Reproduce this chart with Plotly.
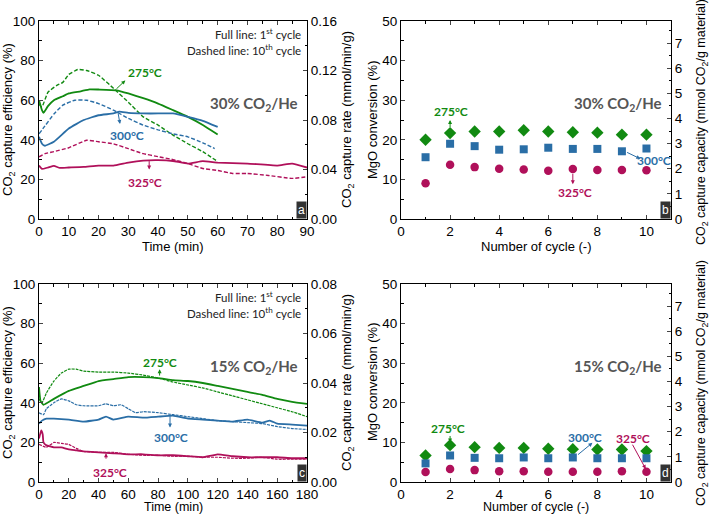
import plotly.graph_objects as go

GREEN = "#118a11"
BLUE = "#2a6ea6"
RED = "#b0105a"
GRAY = "#555555"

# ---- Panel a: 30% CO2/He, capture efficiency vs time ----
a_g1_t = [0, 1, 1.5, 3, 5, 8, 10, 14, 17, 20, 26, 30, 35, 40, 45, 50, 55, 60]
a_g1_y = [60, 55, 53.6, 57, 60, 62, 63.4, 64.5, 65.5, 65.4, 65, 63.4, 61, 58.3, 55, 51.6, 47.5, 42.7]
a_g10_t = [0, 1, 3, 6, 8, 10, 13, 16, 20, 25, 30, 35, 40, 45, 50, 55, 60]
a_g10_y = [58, 56.6, 64, 67.5, 69, 73, 75.5, 75, 72.6, 66, 59, 51.6, 47.4, 42.4, 38, 34, 29]
a_b1_t = [0, 1, 2, 5, 10, 15, 20, 25, 27, 30, 35, 40, 45, 50, 55, 60]
a_b1_y = [41.5, 38, 37, 39, 45.7, 50, 52.4, 53.3, 54.2, 53.6, 53.3, 53.3, 53.3, 51.6, 49.6, 46.5]
a_b10_t = [0, 2, 5, 8, 12, 16, 20, 25, 30, 35, 40, 45, 50, 55, 59]
a_b10_y = [43, 47, 53, 57.5, 60, 60, 58.3, 55, 50.8, 47.4, 45, 43, 41.5, 38.5, 35.6]
a_r1_t = [0, 1, 3, 5, 7, 10, 15, 20, 25, 30, 35, 40, 45, 50, 55, 60, 70, 80, 85, 90]
a_r1_y = [27, 25.3, 26, 26.8, 25.8, 26, 26.3, 27, 27, 28.5, 29.5, 29.7, 29.3, 28, 29.2, 28.5, 28, 27, 28, 26]
a_r10_t = [0, 2, 5, 10, 16, 20, 25, 30, 35, 40, 45, 50, 55, 60, 65, 70, 77, 85, 90]
a_r10_y = [31.4, 33, 34, 36, 39.8, 39, 38, 35.5, 33, 31.5, 30, 28, 25.5, 24.5, 23, 23, 22, 20.5, 21.3]

# ---- Panel c: 15% CO2/He ----
c_g1_t = [0, 1, 3, 10, 20, 30, 40, 50, 60, 70, 80, 90, 100, 110, 120, 130, 140, 150, 160, 170, 180]
c_g1_y = [48, 41, 39, 42, 46, 48.5, 51, 52, 53, 53, 52.5, 51.5, 51, 50, 48.5, 47, 45.5, 44, 42, 40.5, 39.5]
c_g10_t = [0, 2, 5, 10, 15, 20, 25, 30, 40, 50, 60, 70, 80, 90, 100, 110, 120, 130, 140, 150, 160, 170, 180]
c_g10_y = [42, 40, 45, 51, 55, 57, 57, 56, 55.5, 55.5, 55, 54, 52.5, 50.5, 49, 47.5, 45.5, 43.5, 41.5, 39.5, 37.5, 35.5, 33]
c_b1_t = [0, 2, 5, 10, 20, 30, 40, 45, 50, 60, 70, 80, 90, 100, 110, 120, 130, 140, 150, 155, 160, 170, 180]
c_b1_y = [29.5, 31, 32, 32, 31.5, 30.5, 31.5, 33, 31.5, 33, 32.5, 33, 33.5, 32, 31.5, 31, 30.5, 31.5, 30, 31, 29.5, 29, 28.5]
c_b10_t = [0, 3, 5, 10, 15, 20, 25, 30, 40, 45, 50, 55, 60, 65, 70, 80, 90, 100, 110, 120, 130, 140, 150, 160, 170, 180]
c_b10_y = [35, 34, 37, 40, 42, 41, 39, 38.5, 38.5, 39.5, 38.5, 39, 37, 35, 35.5, 35, 34, 33, 32, 31, 30.5, 30, 29.5, 28, 27, 26.5]
c_r1_t = [0, 1.5, 2.5, 3, 5, 10, 15, 20, 25, 30, 40, 50, 60, 70, 80, 90, 100, 110, 120, 130, 140, 150, 160, 170, 180]
c_r1_y = [22, 26, 24, 20, 18.5, 17.5, 17.5, 16.5, 16, 15.5, 15, 14.5, 14, 14, 13.5, 13.5, 13, 12.5, 14, 13, 12.5, 12.5, 12.5, 12, 12]
c_r10_t = [0, 3, 5, 10, 15, 20, 25, 30, 40, 50, 60, 70, 80, 90, 100, 110, 120, 130, 140, 150, 160, 170, 180]
c_r10_y = [19, 18, 17.5, 20, 19.5, 19, 17, 15.5, 15, 15, 14, 13.5, 13.5, 13, 13, 12.5, 12.5, 12, 12, 12.5, 11.5, 11.5, 11.5]

# ---- Panels b, d: MgO conversion vs cycle ----
cycles = [1, 2, 3, 4, 5, 6, 7, 8, 9, 10]
b_275 = [20, 21.7, 22.1, 22.1, 22.4, 22.1, 21.9, 21.8, 21.3, 21.3]
b_300 = [15.6, 19, 18.4, 17.5, 17.6, 18, 17.7, 17.7, 17.1, 17.8]
b_325 = [9, 13.7, 13.1, 12.7, 12.5, 12.2, 12.6, 12.4, 12.4, 12.3]
d_275 = [6.7, 9.3, 8.8, 8.6, 8.6, 8.4, 8.3, 8.2, 8.2, 7.8]
d_300 = [4.7, 6.7, 6.1, 6.0, 6.2, 6.0, 6.2, 6.0, 6.0, 6.0]
d_325 = [2.5, 3.3, 3.0, 2.7, 2.7, 2.6, 2.6, 2.6, 2.7, 2.6]

fig = go.Figure()

def line(t, y, color, dash, xa, ya, w=1.8):
    fig.add_trace(go.Scatter(x=t, y=y, mode="lines", xaxis=xa, yaxis=ya,
                             line=dict(color=color, width=w, dash=dash, shape="spline", smoothing=0.35),
                             showlegend=False, hoverinfo="skip"))

line(a_g10_t, a_g10_y, GREEN, "4px,2px", "x", "y", 1.4)
line(a_b10_t, a_b10_y, BLUE, "4px,2px", "x", "y", 1.4)
line(a_r10_t, a_r10_y, RED, "4px,2px", "x", "y", 1.4)
line(a_g1_t, a_g1_y, GREEN, "solid", "x", "y")
line(a_b1_t, a_b1_y, BLUE, "solid", "x", "y")
line(a_r1_t, a_r1_y, RED, "solid", "x", "y")

line(c_g10_t, c_g10_y, GREEN, "3px,1px", "x3", "y3", 1.2)
line(c_b10_t, c_b10_y, BLUE, "3px,1px", "x3", "y3", 1.2)
line(c_r10_t, c_r10_y, RED, "3px,1px", "x3", "y3", 1.2)
line(c_g1_t, c_g1_y, GREEN, "solid", "x3", "y3")
line(c_b1_t, c_b1_y, BLUE, "solid", "x3", "y3")
line(c_r1_t, c_r1_y, RED, "solid", "x3", "y3")

def pts(y, color, symbol, xa, ya, size):
    fig.add_trace(go.Scatter(x=cycles, y=y, mode="markers", xaxis=xa, yaxis=ya,
                             marker=dict(color=color, symbol=symbol, size=size, line=dict(width=0)),
                             showlegend=False, hoverinfo="skip"))

for ya, xa, s275, s300, s325 in [("y2", "x2", b_275, b_300, b_325), ("y4", "x4", d_275, d_300, d_325)]:
    pts(s275, GREEN, "diamond", xa, ya, 9.5)
    pts(s300, BLUE, "square", xa, ya, 8)
    pts(s325, RED, "circle", xa, ya, 8.5)

# invisible traces to hold right-hand axes
for xa, ya in [("x", "y5"), ("x2", "y6"), ("x3", "y7"), ("x4", "y8")]:
    fig.add_trace(go.Scatter(x=[None], y=[None], xaxis=xa, yaxis=ya, mode="markers",
                             showlegend=False, hoverinfo="skip"))

TICKF = dict(family="Liberation Sans", size=13.5, color="black")

def ax(domain=None, rng=None, dtick=None, minor=None, **kw):
    d = dict(range=rng, dtick=dtick, ticks="inside", ticklen=4, tickwidth=1, automargin=False,
             showline=True, linecolor="black", linewidth=1, showgrid=False, zeroline=False,
             tickfont=TICKF,
             minor=dict(ticks="inside", ticklen=2.5, dtick=minor, tickcolor="black", showgrid=False))
    if domain is not None:
        d["domain"] = domain
    d.update(kw)
    return d

XL = [39/709, 307/709]
XR = [401/709, 671/709]
YT = [1-219/515, 1-21/515]
YB = [1-482/515, 1-284/515]

fig.update_layout(
    width=709, height=515, margin=dict(l=0, r=0, t=0, b=0),
    paper_bgcolor="white", plot_bgcolor="white",
    xaxis=ax(XL, [0, 90], 10, 5, anchor="y", mirror="ticks"),
    yaxis=ax(YT, [0, 100], 20, 10, anchor="x"),
    yaxis5=ax(None, [0, 0.16], 0.04, 0.02, overlaying="y", side="right", anchor="x", tickformat=".2f"),
    xaxis2=ax(XR, [0, 11], 2, 1, anchor="y2", mirror="ticks"),
    yaxis2=ax(YT, [0, 50], 10, 5, anchor="x2"),
    yaxis6=ax(None, [0, 7.875], 1, 0.5, overlaying="y2", side="right", anchor="x2", tick0=0),
    xaxis3=ax(XL, [0, 180], 20, 10, anchor="y3", mirror="ticks"),
    yaxis3=ax(YB, [0, 100], 20, 10, anchor="x3"),
    yaxis7=ax(None, [0, 0.08], 0.02, 0.01, overlaying="y3", side="right", anchor="x3", tickformat=".2f"),
    xaxis4=ax(XR, [0, 11], 2, 1, anchor="y4", mirror="ticks"),
    yaxis4=ax(YB, [0, 50], 10, 5, anchor="x4"),
    yaxis8=ax(None, [0, 7.875], 1, 0.5, overlaying="y4", side="right", anchor="x4", tick0=0),
)

anns = []
TF = "Liberation Sans"

def title(px, py, text, angle=0, size=13):
    anns.append(dict(xref="paper", yref="paper", x=px/709, y=1-py/515, text=text, textangle=angle,
                     showarrow=False, xanchor="center", yanchor="middle",
                     font=dict(family=TF, size=size, color="black")))

EFF = "CO<sub>2</sub> capture efficiency (%)"
RATE = "CO<sub>2</sub> capture rate (mmol/min/g)"
MGO = "MgO conversion (%)"
CAP = "CO<sub>2</sub> capture capacity (mmol CO<sub>2</sub>/g material)"
title(8, 120, EFF, -90)
title(347, 120, RATE, -90)
title(173, 246, "Time (min)")
title(372, 120, MGO, -90)
title(702, 122, CAP, -90, 12.5)
title(536, 246, "Number of cycle (-)")
title(8, 383, EFF, -90)
title(347, 383, RATE, -90)
title(173, 507, "Time (min)", 0, 12.5)
title(372, 382, MGO, -90)
title(702, 383, CAP, -90, 12.5)
title(536, 507, "Number of cycle (-)", 0, 12.5)

ANNF = "Lato"

def txt(xr, yr, x, y, text, color, size=12, bold=True, xanchor="center", yanchor="middle"):
    anns.append(dict(xref=xr, yref=yr, x=x, y=y, text=("<b>%s</b>" % text) if bold else text,
                     showarrow=False, xanchor=xanchor, yanchor=yanchor,
                     font=dict(family=ANNF, size=size, color=color)))

def arrow(xr, yr, x0, y0, x1, y1, color):
    anns.append(dict(xref=xr, yref=yr, axref=xr, ayref=yr, x=x1, y=y1, ax=x0, ay=y0, text="",
                     showarrow=True, arrowhead=2, arrowsize=0.8, arrowwidth=1, arrowcolor=color))

# notes in a & c
for xr, yr in [("x domain", "y domain"), ("x3 domain", "y3 domain")]:
    txt(xr, yr, 0.985, 0.935, "Full line: 1<sup>st</sup> cycle", "#222", 11.5, False, "right")
    txt(xr, yr, 0.985, 0.855, "Dashed line: 10<sup>th</sup> cycle", "#222", 11.5, False, "right")

txt("x domain", "y domain", 0.975, 0.58, "30% CO<sub>2</sub>/He", GRAY, 15, True, "right")
txt("x2 domain", "y2 domain", 0.975, 0.58, "30% CO<sub>2</sub>/He", GRAY, 15, True, "right")
txt("x3 domain", "y3 domain", 0.975, 0.58, "15% CO<sub>2</sub>/He", GRAY, 15, True, "right")
txt("x4 domain", "y4 domain", 0.975, 0.58, "15% CO<sub>2</sub>/He", GRAY, 15, True, "right")

# panel a labels
txt("x", "y", 35.5, 74, "275°C", GREEN)
arrow("x", "y", 25.5, 65, 29, 70, GREEN)
txt("x", "y", 29.5, 42.4, "300°C", BLUE)
arrow("x", "y", 26.5, 54, 27.2, 48, BLUE)
txt("x", "y", 35.7, 18.3, "325°C", RED)
arrow("x", "y", 37, 30, 37, 25, RED)

# panel b labels
txt("x2", "y2", 2.04, 27.1, "275°C", GREEN)
arrow("x2", "y2", 2, 22.8, 2, 25, GREEN)
txt("x2", "y2", 10.3, 14.7, "300°C", BLUE)
arrow("x2", "y2", 9.15, 17, 9.75, 15.2, BLUE)
txt("x2", "y2", 7.1, 6.6, "325°C", RED)
arrow("x2", "y2", 7, 11.8, 7, 8.8, RED)

# panel c labels
txt("x3", "y3", 81, 60.6, "275°C", GREEN)
arrow("x3", "y3", 81, 53, 81, 57, GREEN)
txt("x3", "y3", 88.8, 22.6, "300°C", BLUE)
arrow("x3", "y3", 88, 34, 88, 27.5, BLUE)
txt("x3", "y3", 47.9, 5, "325°C", RED)
arrow("x3", "y3", 45, 11, 45, 14.5, RED)

# panel d labels
txt("x4", "y4", 1.91, 13.4, "275°C", GREEN)
arrow("x4", "y4", 2, 12, 2, 10, GREEN)
txt("x4", "y4", 7.51, 11.3, "300°C", BLUE)
arrow("x4", "y4", 7.15, 6.6, 7.8, 9.9, BLUE)
txt("x4", "y4", 9.44, 11, "325°C", RED)
arrow("x4", "y4", 9.4, 9.8, 9.97, 3.3, RED)

# panel letters
for xr, yr, letter in [("x domain", "y domain", "a"), ("x2 domain", "y2 domain", "b"),
                       ("x3 domain", "y3 domain", "c"), ("x4 domain", "y4 domain", "d")]:
    anns.append(dict(xref=xr, yref=yr, x=1, y=0, xanchor="right", yanchor="bottom", text=letter,
                     showarrow=False, bgcolor="#333333", borderpad=1,
                     font=dict(family="Liberation Sans", size=12, color="white")))

fig.update_layout(annotations=anns)
fig.write_html("out.html", config={"displayModeBar": False},
               post_script="document.body.style.margin='0px';document.body.style.padding='0px';"
                           "document.body.style.overflow='hidden';")
